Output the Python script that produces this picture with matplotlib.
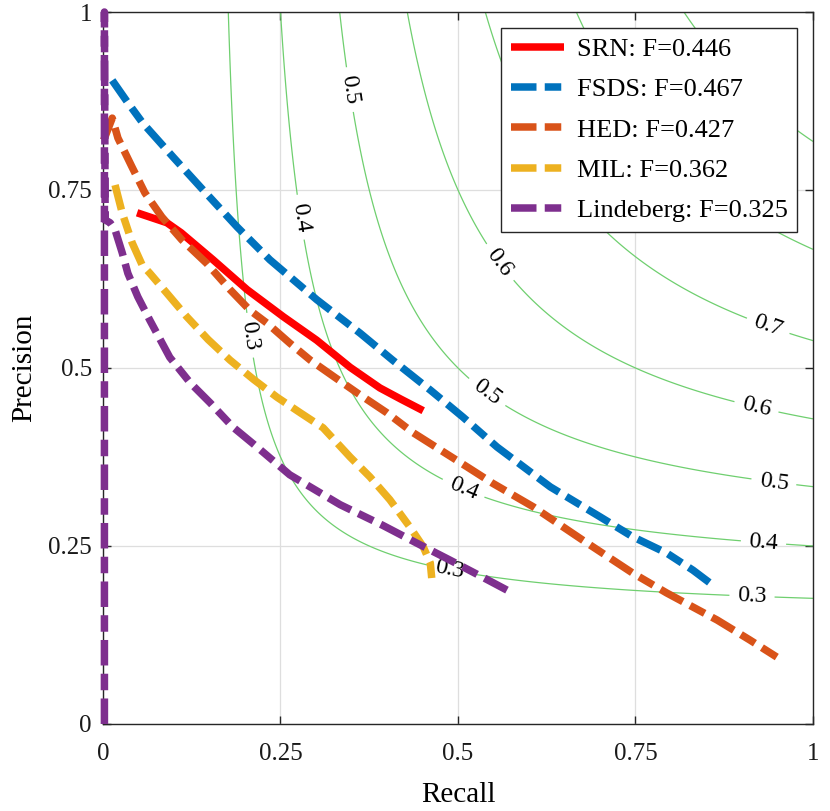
import numpy as np
import matplotlib.pyplot as plt

# -------------------------------
# Data
# -------------------------------
srn_r = [0.048, 0.090, 0.110, 0.155, 0.203, 0.254, 0.301, 0.348, 0.390, 0.420, 0.451]
srn_p = [0.718, 0.704, 0.690, 0.652, 0.610, 0.572, 0.539, 0.501, 0.472, 0.456, 0.440]

fsds_r = [0.013, 0.034, 0.056, 0.099, 0.141, 0.189, 0.235, 0.301, 0.362, 0.408,
          0.461, 0.507, 0.555, 0.630, 0.700, 0.746, 0.794, 0.831, 0.859]
fsds_p = [0.904, 0.874, 0.844, 0.796, 0.750, 0.698, 0.652, 0.596, 0.549, 0.511,
          0.469, 0.431, 0.389, 0.333, 0.291, 0.263, 0.240, 0.216, 0.195]

hed_r = [0.001, 0.013, 0.021, 0.041, 0.059, 0.083, 0.111, 0.146, 0.179, 0.207, 0.231,
         0.263, 0.292, 0.322, 0.358, 0.400, 0.437, 0.475, 0.513, 0.549, 0.606, 0.676,
         0.746, 0.794, 0.865, 0.911, 0.949]
hed_p = [0.820, 0.851, 0.823, 0.782, 0.746, 0.712, 0.680, 0.647, 0.610, 0.581, 0.563,
         0.535, 0.511, 0.490, 0.465, 0.437, 0.409, 0.385, 0.361, 0.338, 0.305, 0.258,
         0.212, 0.184, 0.146, 0.118, 0.094]

mil_r = [0.017, 0.027, 0.041, 0.055, 0.066, 0.090, 0.118, 0.148, 0.179, 0.212, 0.245,
         0.278, 0.310, 0.348, 0.376, 0.404, 0.432, 0.451, 0.461, 0.463]
mil_p = [0.757, 0.718, 0.676, 0.645, 0.633, 0.605, 0.572, 0.540, 0.511, 0.484, 0.459,
         0.437, 0.416, 0.375, 0.347, 0.315, 0.277, 0.249, 0.226, 0.205]

lind_r = [0.002, 0.002, 0.003, 0.010, 0.017, 0.027, 0.035, 0.049, 0.066, 0.094, 0.123,
          0.151, 0.183, 0.217, 0.263, 0.334, 0.394, 0.442, 0.489, 0.535, 0.569]
lind_p = [0.0, 1.0, 0.708, 0.704, 0.694, 0.662, 0.633, 0.600, 0.567, 0.515, 0.479,
          0.451, 0.417, 0.389, 0.350, 0.308, 0.279, 0.254, 0.230, 0.206, 0.188]

methods = ["SRN", "FSDS", "HED", "MIL", "Lindeberg"]
fscores = [0.446, 0.467, 0.427, 0.362, 0.325]
colors = ["#FF0000", "#0072BD", "#D95319", "#EDB120", "#7E2F8E"]

iso_levels = [0.3, 0.4, 0.5, 0.6, 0.7, 0.8, 0.9]
# where the iso-F labels sit (recall, precision)
label_pos = [(0.207, 0.546), (0.486, 0.209), (0.914, 0.177),
             (0.273, 0.711), (0.507, 0.329), (0.930, 0.251),
             (0.341, 0.890), (0.538, 0.462), (0.945, 0.341),
             (0.545, 0.638), (0.921, 0.448), (0.939, 0.565)]

plt.rcParams["font.family"] = ["Liberation Serif", "DejaVu Serif"]

fig = plt.figure(figsize=(8.3, 8.11), dpi=100)
ax = fig.add_axes([0.1241, 0.1073, 0.8554, 0.8779])

# iso-F contours
g = np.linspace(0.001, 1, 600)
R, P = np.meshgrid(g, g)
F = 2 * P * R / (P + R)
cs = ax.contour(R, P, F, levels=iso_levels, colors="#6fcf6f", linewidths=0.9, zorder=1)
ax.clabel(cs, inline=True, fontsize=17, fmt="%.1f", manual=label_pos,
          inline_spacing=8, colors="black")

lw = 5.4
dash = (3.4, 1.1, 2.2, 1.1)
curves = [(srn_r, srn_p), (fsds_r, fsds_p), (hed_r, hed_p), (mil_r, mil_p), (lind_r, lind_p)]
for i, (r, p) in enumerate(curves):
    label = f"{methods[i]}: F={fscores[i]:.3f}"
    if i == 0:
        ax.plot(r, p, color=colors[i], lw=lw, solid_capstyle="butt", label=label,
                zorder=3, clip_on=False)
    else:
        ax.plot(r, p, color=colors[i], lw=lw, dashes=dash, dash_capstyle="butt",
                label=label, zorder=3, clip_on=False)

ax.set_xlim(0, 1)
ax.set_ylim(0, 1)
ticks = [0, 0.25, 0.5, 0.75, 1]
tick_labels = ["0", "0.25", "0.5", "0.75", "1"]
ax.set_xticks(ticks)
ax.set_xticklabels(tick_labels)
ax.set_yticks(ticks)
ax.set_yticklabels(tick_labels)
ax.tick_params(direction="in", length=6, width=1, top=True, right=True,
               labelsize=18, colors="#262626", labelcolor="#1a1a1a")
ax.tick_params(axis="x", pad=14)
ax.tick_params(axis="y", pad=8)
ax.grid(True, color="#dedede", lw=0.9)
ax.set_axisbelow(True)
for s in ax.spines.values():
    s.set_color("#262626")
    s.set_linewidth(1.0)

ax.set_xlabel("Recall", fontsize=21, labelpad=12)
ax.set_ylabel("Precision", fontsize=21, labelpad=8)

leg = ax.legend(loc="upper right", fontsize=19, fancybox=False, framealpha=1,
                edgecolor="#262626", borderaxespad=0.6, handlelength=2.0,
                handletextpad=0.5, labelspacing=0.64, borderpad=0.36)
leg.get_frame().set_linewidth(1.0)
leg.set_zorder(5)

fig.savefig("out.png", dpi=100)
